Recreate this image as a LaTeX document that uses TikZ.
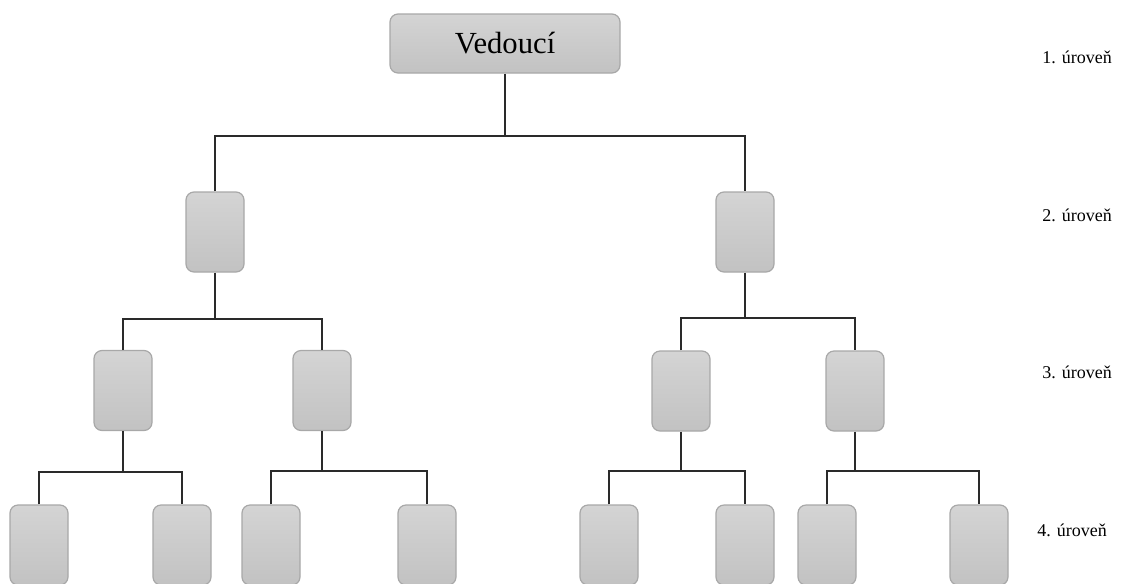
\documentclass[tikz,border=0pt]{standalone}
\usepackage{fontspec}
\setmainfont{Liberation Serif}
\definecolor{boxtop}{HTML}{D4D4D4}
\definecolor{boxbot}{HTML}{C2C2C2}
\definecolor{boxline}{HTML}{A8A8A8}
\definecolor{conn}{HTML}{2A2A2A}
\tikzset{
  box/.style={draw=boxline, line width=0.9pt, rounded corners=6pt, top color=boxtop, bottom color=boxbot, minimum width=43.5pt, minimum height=60pt, inner sep=0pt},
  headbox/.style={box, minimum width=172.5pt, minimum height=44.25pt, font=\fontsize{23}{26}\selectfont},
  link/.style={draw=conn, line width=1.1pt},
  lvl/.style={anchor=west, font=\fontsize{13.5}{16}\selectfont, inner sep=0pt}
}
\begin{document}
\begin{tikzpicture}[x=0.75pt,y=-0.75pt]
\useasboundingbox (0,0) rectangle (1136,583);
\clip (0,0) rectangle (1136,583);
% level 1
\node[headbox] (V) at (505,43.5) {Vedoucí};
% level 2
\node[box] (A) at (215,232) {};
\node[box] (B) at (745,232) {};
% level 3
\node[box] (A1) at (123,390.5) {};
\node[box] (A2) at (322,390.5) {};
\node[box] (B1) at (681,391) {};
\node[box] (B2) at (855,391) {};
% level 4
\node[box] (A11) at (39,545) {};
\node[box] (A12) at (182,545) {};
\node[box] (A21) at (271,545) {};
\node[box] (A22) at (427,545) {};
\node[box] (B11) at (609,545) {};
\node[box] (B12) at (745,545) {};
\node[box] (B21) at (827,545) {};
\node[box] (B22) at (979,545) {};
% connectors
\draw[link] (V.south) -- (V.south |- 0,136);
\draw[link] (A.north) -- (A.north |- 0,136) -- (B.north |- 0,136) -- (B.north);
\draw[link] (A.south) -- (A.south |- 0,319);
\draw[link] (A1.north) -- (A1.north |- 0,319) -- (A2.north |- 0,319) -- (A2.north);
\draw[link] (B.south) -- (B.south |- 0,318);
\draw[link] (B1.north) -- (B1.north |- 0,318) -- (B2.north |- 0,318) -- (B2.north);
\draw[link] (A1.south) -- (A1.south |- 0,472);
\draw[link] (A11.north) -- (A11.north |- 0,472) -- (A12.north |- 0,472) -- (A12.north);
\draw[link] (A2.south) -- (A2.south |- 0,471);
\draw[link] (A21.north) -- (A21.north |- 0,471) -- (A22.north |- 0,471) -- (A22.north);
\draw[link] (B1.south) -- (B1.south |- 0,471);
\draw[link] (B11.north) -- (B11.north |- 0,471) -- (B12.north |- 0,471) -- (B12.north);
\draw[link] (B2.south) -- (B2.south |- 0,471);
\draw[link] (B21.north) -- (B21.north |- 0,471) -- (B22.north |- 0,471) -- (B22.north);
% level labels
\node[lvl] (L1) at (1042,57) {1. úroveň};
\node[lvl] (L2) at (1042,215) {2. úroveň};
\node[lvl] (L3) at (1042,372) {3. úroveň};
\node[lvl] (L4) at (1037,530) {4. úroveň};
\end{tikzpicture}
\end{document}
